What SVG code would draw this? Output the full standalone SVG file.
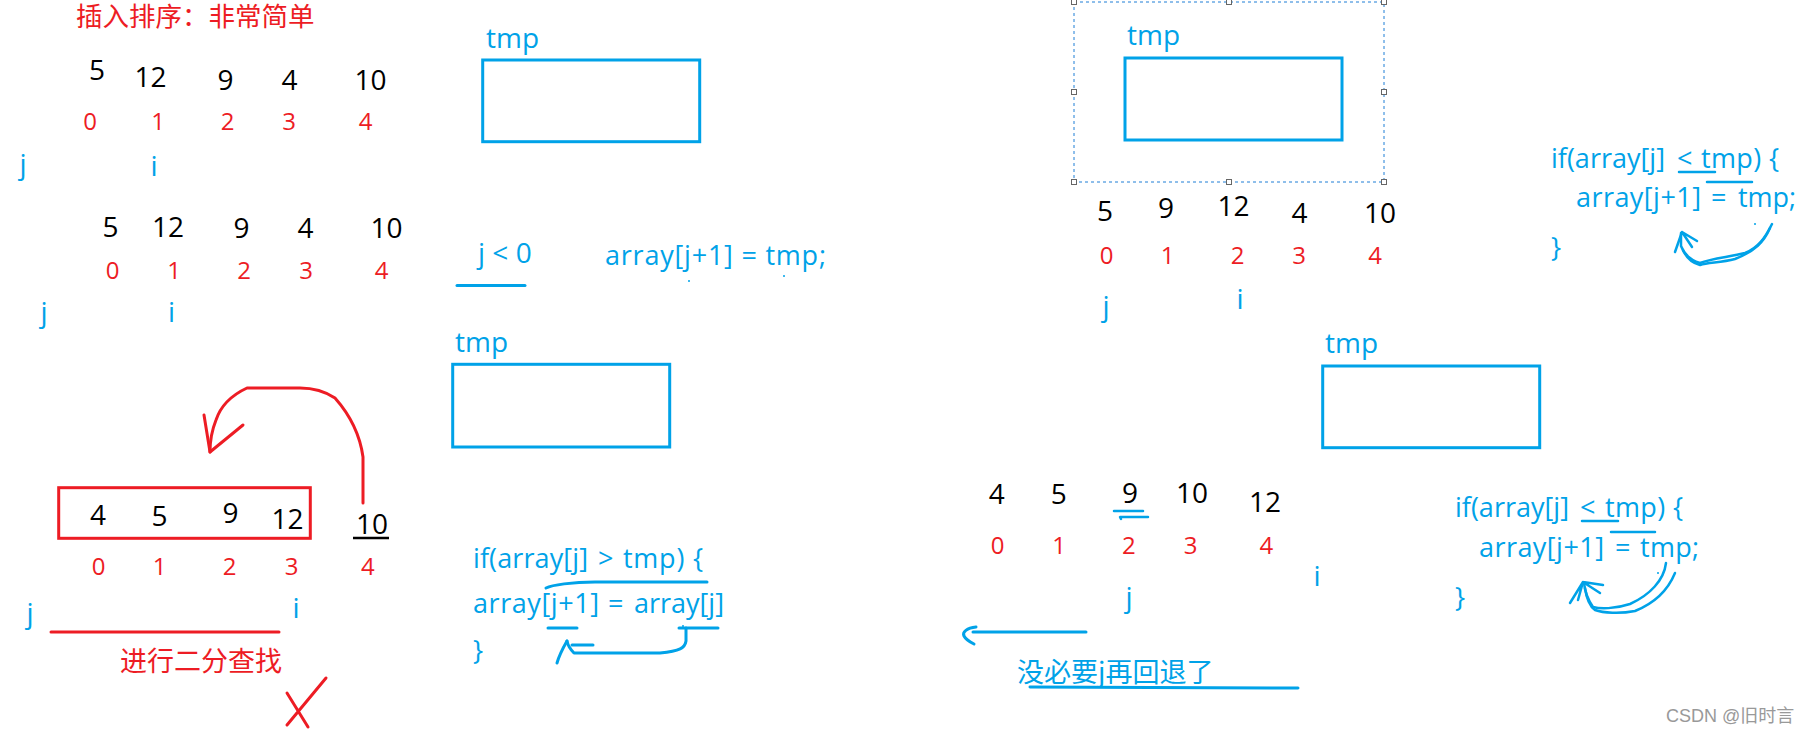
<svg xmlns="http://www.w3.org/2000/svg" width="1812" height="735" viewBox="0 0 1812 735">
<style>
text{font-family:"Open Sans","Noto Sans","Noto Sans CJK SC",sans-serif}
.blk{font-size:28px;fill:#000;text-anchor:middle}
.idx{font-size:24px;fill:#ED1C24;text-anchor:middle}
.blu{font-size:28px;fill:#00A2E8}
.bm{text-anchor:middle}
.code{font-size:27px;fill:#00A2E8}
.cjk{font-family:"Noto Sans CJK SC","Noto Sans",sans-serif;font-size:27px}
.box{fill:none;stroke:#00A2E8;stroke-width:3}
.rline{fill:none;stroke:#ED1C24;stroke-width:3;stroke-linecap:round;stroke-linejoin:round}
.bline{fill:none;stroke:#00A2E8;stroke-width:3;stroke-linecap:round;stroke-linejoin:round}
.bthin{fill:none;stroke:#00A2E8;stroke-width:2.5;stroke-linecap:round;stroke-linejoin:round}
.dot{fill:none;stroke:#00A2E8;stroke-width:1}
.hdl{fill:#fff;stroke:#666;stroke-width:1}
</style>
<rect width="1812" height="735" fill="#fff"/>

<g id="title">
<text class="cjk" x="76" y="26" font-size="26.5" style="font-size:26.5px" fill="#ED1C24">插入排序：非常简单</text>
</g>

<g id="array-1">
<text class="blk" x="97" y="80">5</text>
<text class="blk" x="150.5" y="87">12</text>
<text class="blk" x="225.5" y="90">9</text>
<text class="blk" x="289.5" y="90">4</text>
<text class="blk" x="370.5" y="90">10</text>
<text class="idx" x="90" y="130">0</text>
<text class="idx" x="158" y="130">1</text>
<text class="idx" x="227.5" y="130">2</text>
<text class="idx" x="289" y="130">3</text>
<text class="idx" x="365.5" y="130">4</text>
<text class="blu bm" x="23" y="174">j</text>
<text class="blu bm" x="154" y="176">i</text>
</g>

<g id="array-2">
<text class="blk" x="110.5" y="237">5</text>
<text class="blk" x="168" y="237">12</text>
<text class="blk" x="241.5" y="238">9</text>
<text class="blk" x="305.5" y="238">4</text>
<text class="blk" x="386.5" y="238">10</text>
<text class="idx" x="112.5" y="279">0</text>
<text class="idx" x="174" y="279">1</text>
<text class="idx" x="244" y="279">2</text>
<text class="idx" x="306" y="279">3</text>
<text class="idx" x="381.5" y="279">4</text>
<text class="blu bm" x="44" y="322">j</text>
<text class="blu bm" x="171.5" y="322">i</text>
</g>

<g id="tmp-1">
<text class="blu" x="486" y="48">tmp</text>
<rect class="box" x="482.7" y="60" width="217" height="81.7"/>
</g>

<g id="cond-1">
<text class="blu" x="478" y="263" xml:space="preserve">j &lt; 0</text>
<text class="code" x="605" y="265" textLength="221" lengthAdjust="spacing">array[j+1] = tmp;</text>
</g>

<g id="tmp-2">
<text class="blu" x="1127" y="45">tmp</text>
<rect class="box" x="1125" y="58" width="217" height="82"/>
</g>

<g id="selection">
<rect x="1074" y="2" width="310" height="180" fill="none" stroke="#1E7FD6" stroke-width="1" stroke-dasharray="3,3"/>
<rect class="hdl" x="1071.5" y="-0.5" width="5" height="5"/>
<rect class="hdl" x="1226.5" y="-0.5" width="5" height="5"/>
<rect class="hdl" x="1381.5" y="-0.5" width="5" height="5"/>
<rect class="hdl" x="1071.5" y="89.5" width="5" height="5"/>
<rect class="hdl" x="1381.5" y="89.5" width="5" height="5"/>
<rect class="hdl" x="1071.5" y="179.5" width="5" height="5"/>
<rect class="hdl" x="1226.5" y="179.5" width="5" height="5"/>
<rect class="hdl" x="1381.5" y="179.5" width="5" height="5"/>
</g>

<g id="array-3">
<text class="blk" x="1105" y="221">5</text>
<text class="blk" x="1166" y="218">9</text>
<text class="blk" x="1233.5" y="216">12</text>
<text class="blk" x="1299.5" y="223">4</text>
<text class="blk" x="1380" y="223">10</text>
<text class="idx" x="1106.7" y="264">0</text>
<text class="idx" x="1167.5" y="264">1</text>
<text class="idx" x="1237.5" y="264">2</text>
<text class="idx" x="1299" y="264">3</text>
<text class="idx" x="1375" y="264">4</text>
<text class="blu bm" x="1106" y="316">j</text>
<text class="blu bm" x="1240" y="309">i</text>
</g>

<g id="code-1">
<text class="code" x="1551" y="168" textLength="114" lengthAdjust="spacing">if(array[j]</text>
<text class="code" x="1677" y="168">&lt;</text>
<text class="code" x="1701" y="168" textLength="78" lengthAdjust="spacing">tmp) {</text>
<text class="code" x="1576" y="207" textLength="125" lengthAdjust="spacing">array[j+1]</text>
<text class="code" x="1711" y="207">=</text>
<text class="code" x="1738" y="207" textLength="58" lengthAdjust="spacing">tmp;</text>
<text class="code" x="1551" y="257">}</text>
</g>

<g id="tmp-3">
<text class="blu" x="455" y="352">tmp</text>
<rect class="box" x="452.7" y="364.3" width="217" height="82.7"/>
</g>

<g id="code-2">
<text class="code" x="473" y="568" textLength="115" lengthAdjust="spacing">if(array[j]</text>
<text class="code" x="598" y="568">&gt;</text>
<text class="code" x="623" y="568" textLength="80" lengthAdjust="spacing">tmp) {</text>
<text class="code" x="473" y="613" textLength="126" lengthAdjust="spacing">array[j+1]</text>
<text class="code" x="608" y="613">=</text>
<text class="code" x="634" y="613" textLength="90" lengthAdjust="spacing">array[j]</text>
<text class="code" x="473" y="660">}</text>
</g>

<g id="array-4">
<rect x="58.7" y="487.7" width="251.6" height="50.6" fill="none" stroke="#ED1C24" stroke-width="3"/>
<text class="blk" x="98" y="525">4</text>
<text class="blk" x="159.5" y="526">5</text>
<text class="blk" x="230.5" y="523">9</text>
<text class="blk" x="287.5" y="529">12</text>
<text class="blk" x="372" y="534">10</text>
<text class="idx" x="98.5" y="575">0</text>
<text class="idx" x="159.5" y="575">1</text>
<text class="idx" x="229.7" y="575">2</text>
<text class="idx" x="291.7" y="575">3</text>
<text class="idx" x="367.8" y="575">4</text>
<text class="blu bm" x="30" y="623">j</text>
<text class="blu bm" x="296" y="618">i</text>
<text class="cjk" x="120" y="671" fill="#ED1C24">进行二分查找</text>
</g>

<g id="array-5">
<text class="blk" x="996.7" y="504">4</text>
<text class="blk" x="1058.8" y="504">5</text>
<text class="blk" x="1130" y="503">9</text>
<text class="blk" x="1192" y="503">10</text>
<text class="blk" x="1265" y="512">12</text>
<text class="idx" x="997.5" y="554">0</text>
<text class="idx" x="1059" y="554">1</text>
<text class="idx" x="1128.8" y="554">2</text>
<text class="idx" x="1190.5" y="554">3</text>
<text class="idx" x="1266.3" y="554">4</text>
<text class="blu bm" x="1317" y="586">i</text>
<text class="blu bm" x="1129" y="607">j</text>
<text class="cjk" x="1017" y="682" fill="#00A2E8">没必要j再回退了</text>
</g>

<g id="tmp-4">
<text class="blu" x="1325" y="353">tmp</text>
<rect class="box" x="1322.7" y="366" width="217" height="81.7"/>
</g>

<g id="code-3">
<text class="code" x="1455" y="517" textLength="114" lengthAdjust="spacing">if(array[j]</text>
<text class="code" x="1580" y="517">&lt;</text>
<text class="code" x="1605" y="517" textLength="78" lengthAdjust="spacing">tmp) {</text>
<text class="code" x="1479" y="557" textLength="125" lengthAdjust="spacing">array[j+1]</text>
<text class="code" x="1615" y="557">=</text>
<text class="code" x="1640" y="557" textLength="59" lengthAdjust="spacing">tmp;</text>
<text class="code" x="1455" y="607">}</text>
</g>

<g id="watermark">
<text x="1666" y="722" font-family="Liberation Sans, Noto Sans CJK SC, sans-serif" style="font-family:'Liberation Sans','Noto Sans CJK SC',sans-serif" font-size="18" fill="#999">CSDN @旧时言</text>
</g>

<g id="connectors">
<path class="bline" d="M457,285.5 L525,285.5"/>
<path class="dot" d="M688,281 h2 M689,280 v2 M783,276 h2 M784,275 v2"/>
<path class="bthin" d="M1679,172 L1715,172"/>
<path class="bthin" d="M1707,182 L1752,182"/>
<path class="dot" d="M1754,224 h2 M1755,223 v2"/>
<path class="bthin" d="M1772,224 C1765,238 1758,248 1745,253 C1730,257 1712,258 1700,263 C1690,260 1684,254 1681,246 L1681,233"/>
<path class="bthin" d="M1770,228 C1764,242 1755,251 1735,259 C1720,263 1708,262 1700,265 C1692,263 1686,257 1683,250"/>
<path class="bthin" d="M1675,252 L1682,232 L1697,241 M1682,232 L1692,247"/>
<path class="bline" d="M546,588 C552,585 572,582 595,582 L707,582"/>
<path class="bline" d="M548,628 L577,628"/>
<path class="bline" d="M679,628 L718,628"/>
<path class="dot" d="M682,626 h2 M683,625 v2"/>
<path class="bline" d="M686,628 L686,641 C685,648 680,651 660,653 L574,653 C571,650 568,646 567,641"/>
<path class="bline" d="M572,645 L593,645"/>
<path class="bline" d="M567,641 C563,648 559,656 557,663"/>
<path class="rline" d="M363,503 L363,457 C360,435 350,415 335,398 C323,390 312,388 300,388 L247,388 C232,395 221,405 216,420 C212,430 210,440 210,452"/>
<path class="rline" d="M204,415 L210,452 L243,425"/>
<path d="M353,538 L389,538" stroke="#000" stroke-width="2.5"/>
<path class="rline" d="M51,632 L279,632"/>
<path class="rline" d="M326,678 L287,725 M287,693 L308,727"/>
<path class="bthin" d="M1114,511 L1143,511"/>
<path class="bthin" d="M1121,519 L1120,517 L1148,517"/>
<path class="bline" d="M1086,632 L973,632"/>
<path class="bline" d="M976,627 C967,628 962,632 964,636 C966,640 970,642 974,644"/>
<path class="bline" d="M1030,687 L1298,688"/>
<path class="bthin" d="M1582,521 L1618,521"/>
<path class="bthin" d="M1611,532 L1655,532"/>
<path class="dot" d="M1657,573 h2 M1658,572 v2"/>
<path class="bthin" d="M1666,563 C1664,580 1650,595 1630,604 C1615,609 1600,609 1593,607 C1588,600 1585,592 1584,583"/>
<path class="bthin" d="M1675,573 C1668,590 1655,603 1635,611 C1620,614 1603,613 1595,610 C1588,605 1586,595 1585,588"/>
<path class="bthin" d="M1570,603 L1583,582 L1603,585 M1583,582 L1600,593 M1583,582 L1578,600"/>
</g>
</svg>
